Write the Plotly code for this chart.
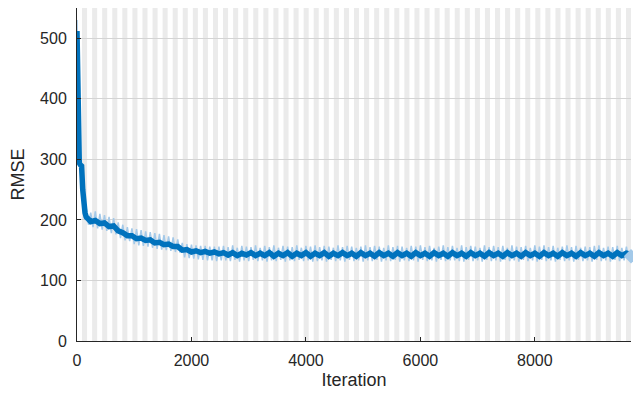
import plotly.graph_objects as go

# ---- data ----
num_epochs = 110
iters_per_epoch = 88
x_max = num_epochs * iters_per_epoch  # 9680

x_ticks = [0, 2000, 4000, 6000, 8000]
y_ticks = [0, 100, 200, 300, 400, 500]

# smoothed RMSE (dark blue)
smooth_iter_early = [0, 10, 20, 30, 40, 60, 80, 100, 120, 140]
smooth_early = [512, 430, 350, 300, 294, 291, 289, 250, 222, 212]
smooth_iter_main = list(range(160, x_max + 1, 80))
smooth_main = [
    205, 197, 199, 194, 195, 189, 190, 182, 179, 174,
    174, 169, 170, 166, 167, 162, 163, 159, 160, 156,
    156, 150, 151, 147, 149, 146, 148, 145, 147, 144,
    146, 142, 146, 141, 145, 142, 146, 141, 145, 141,
    146, 140, 145, 141, 146, 140, 145, 141, 146, 140,
    145, 141, 146, 140, 145, 141, 146, 141, 145, 140,
    146, 141, 145, 140, 146, 141, 145, 140, 146, 141,
    145, 140, 146, 141, 145, 140, 146, 141, 145, 140,
    146, 141, 145, 140, 146, 141, 145, 140, 146, 141,
    145, 140, 146, 141, 145, 140, 146, 141, 145, 140,
    146, 141, 145, 140, 146, 141, 145, 140, 146, 141,
    145, 140, 146, 141, 145, 140, 146, 141, 145, 143,
]

# raw RMSE (light blue)
raw_iter_early = [0, 10, 20, 30, 40, 60, 80, 100, 120, 140]
raw_early = [530, 400, 330, 290, 300, 284, 296, 225, 232, 200]
raw_iter_main = list(range(160, x_max + 1, 40))
raw_main = [
    220, 192, 212, 188, 214, 186, 210, 184, 208, 182, 205, 178, 203, 176, 196, 170, 192, 166, 188, 165,
    186, 160, 185, 158, 183, 157, 181, 156, 180, 154, 178, 152, 177, 151, 175, 150, 173, 149, 171, 147,
    168, 146, 162, 138, 160, 137, 159, 136, 158, 135, 157, 134, 157, 133, 156, 133, 156, 132, 156, 133,
    157, 133, 155, 132, 158, 134, 154, 131, 157, 133, 156, 132, 155, 134, 158, 132, 154, 133, 157, 131,
    155, 133, 158, 132, 154, 134, 157, 131, 156, 133, 155, 132, 158, 134, 154, 132, 157, 133, 156, 131,
    158, 132, 155, 133, 157, 131, 156, 134, 154, 132, 158, 133, 155, 131, 157, 134, 156, 132, 154, 133,
    156, 131, 158, 133, 155, 132, 157, 134, 156, 131, 154, 133, 158, 132, 155, 134, 157, 131, 156, 133,
    154, 132, 157, 133, 156, 131, 158, 134, 155, 132, 157, 133, 154, 131, 156, 134, 158, 132, 155, 133,
    157, 133, 154, 132, 158, 131, 155, 134, 157, 132, 156, 133, 154, 131, 158, 134, 155, 132, 157, 133,
    155, 131, 157, 134, 154, 132, 158, 133, 156, 131, 155, 134, 157, 132, 154, 133, 158, 131, 156, 134,
    158, 132, 155, 133, 157, 131, 154, 134, 156, 132, 158, 133, 155, 131, 157, 134, 154, 132, 156, 133,
    155, 131, 157, 134, 158, 132, 154, 133, 156, 131, 155, 134, 157, 132, 154, 133, 156, 134, 140,
]

smooth_x = smooth_iter_early + smooth_iter_main
smooth_y = smooth_early + smooth_main
raw_x = raw_iter_early + raw_iter_main
raw_y = raw_early + raw_main

DARK = "#0072BD"
LIGHT = "#a3c9e9"
TXT = "#262626"
FONT = "Liberation Sans, Arial, sans-serif"

fig = go.Figure()
fig.add_trace(go.Scatter(x=raw_x, y=raw_y, mode="lines",
                         line=dict(color=LIGHT, width=1.5), hoverinfo="skip",
                         showlegend=False, cliponaxis=False))
fig.add_trace(go.Scatter(x=smooth_x, y=smooth_y, mode="lines",
                         line=dict(color=DARK, width=5.5), showlegend=False))
fig.add_trace(go.Scatter(x=[raw_x[-1]], y=[raw_y[-1]], mode="markers",
                         marker=dict(symbol="diamond", size=11, color=LIGHT),
                         showlegend=False, cliponaxis=False))

shapes = []
for e in range(num_epochs):
    if e % 2 == 1:
        shapes.append(dict(type="rect", xref="x", yref="paper",
                           x0=e * iters_per_epoch, x1=(e + 1) * iters_per_epoch,
                           y0=0, y1=1, fillcolor="#ebebeb", line=dict(width=0),
                           layer="below"))

# the page body adds an 8px offset, so the figure is sized/margined to compensate
fig.update_layout(
    width=633, height=392,
    margin=dict(l=69, r=10, t=0, b=59, autoexpand=False),
    paper_bgcolor="white", plot_bgcolor="white",
    font=dict(family=FONT, size=16, color=TXT),
    shapes=shapes,
    xaxis=dict(range=[0, x_max], tickvals=x_ticks, ticks="inside", ticklen=4,
               tickcolor=TXT, showline=True, linecolor=TXT, linewidth=1,
               showgrid=False, zeroline=False, automargin=False,
               ticklabelstandoff=5,
               title=dict(text="Iteration", standoff=5, font=dict(size=18)),
               tickfont=dict(size=16, color=TXT)),
    yaxis=dict(range=[0, 550], tickvals=y_ticks, ticks="inside", ticklen=4,
               tickcolor=TXT, showline=True, linecolor=TXT, linewidth=1,
               showgrid=True, gridcolor="#d4d4d4", gridwidth=1, zeroline=False,
               ticklabelstandoff=6, automargin=False,
               title=dict(text="RMSE", standoff=10, font=dict(size=18)),
               tickfont=dict(size=16, color=TXT)),
)

fig.write_html("out.html")
